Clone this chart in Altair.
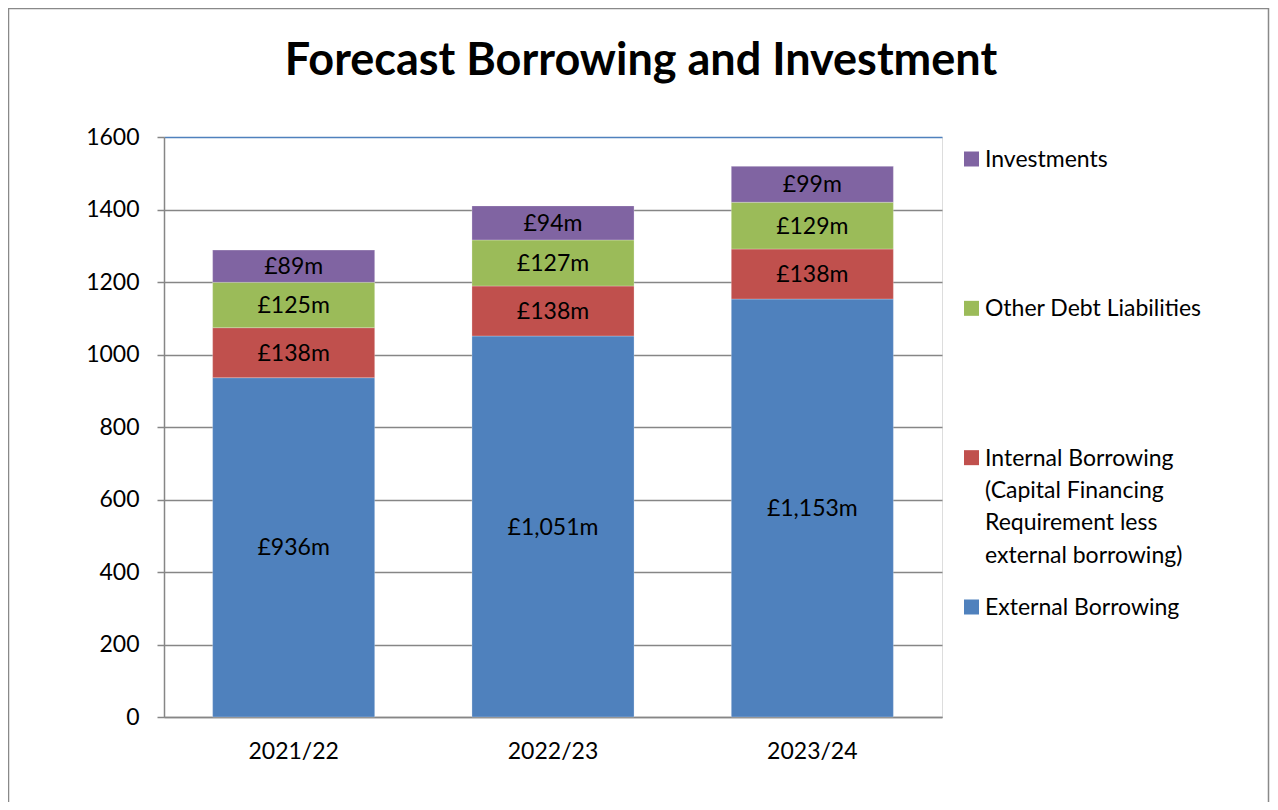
import altair as alt
import pandas as pd

# ---- data ----
years = ["2021/22", "2022/23", "2023/24"]
series = [
    "External Borrowing",
    "Internal Borrowing (Capital Financing Requirement less external borrowing)",
    "Other Debt Liabilities",
    "Investments",
]
legend_labels = [
    "External Borrowing",
    "Internal Borrowing\n(Capital Financing\nRequirement less\nexternal borrowing)",
    "Other Debt Liabilities",
    "Investments",
]
external = [936, 1051, 1153]
internal = [138, 138, 138]
other = [125, 127, 129]
investments = [89, 94, 99]
colors = ["#4F81BD", "#C0504D", "#9BBB59", "#8064A2"]
title_text = "Forecast Borrowing and Investment"
y_ticks = [0, 200, 400, 600, 800, 1000, 1200, 1400, 1600]

rows = []
for i, y in enumerate(years):
    for j, (s, vals) in enumerate(zip(series, [external, internal, other, investments])):
        rows.append({"year": y, "series": s, "order": j, "value": vals[i]})
df = pd.DataFrame(rows)

leg_df = pd.DataFrame({"series": series, "label": legend_labels})

FONT = "Lato"
FS = 23

color_scale = alt.Scale(domain=series, range=colors)
x_enc = alt.X(
    "year:N",
    sort=years,
    title=None,
    scale=alt.Scale(paddingInner=0.375, paddingOuter=0.1875),
    axis=alt.Axis(
        labelAngle=0, ticks=False, tickSize=0, labelPadding=23,
        labelFont=FONT, labelFontSize=FS, labelColor="#000000",
        domainColor="#868686", domainWidth=1.5, grid=False,
    ),
)

bars = alt.Chart(df).mark_bar(stroke="#ffffff", strokeOpacity=0.25, strokeWidth=1).encode(
    x=x_enc,
    y=alt.Y(
        "value:Q",
        stack="zero",
        title=None,
        scale=alt.Scale(domain=[0, 1600], nice=False),
        axis=alt.Axis(
            values=y_ticks, format="d", tickSize=7, tickColor="#868686", tickWidth=1.5,
            labelPadding=18, labelFont=FONT, labelFontSize=FS, labelColor="#000000",
            domainColor="#868686", domainWidth=1.5,
            gridColor={"condition": {"test": "datum.value === 1600", "value": "#4F81BD"}, "value": "#868686"},
            gridWidth=1.5,
        ),
    ),
    color=alt.Color("series:N", scale=color_scale, legend=None),
    order=alt.Order("order:Q", sort="ascending"),
)

labels = alt.Chart(df).transform_window(
    cum="sum(value)", groupby=["year"], sort=[alt.SortField("order", "ascending")]
).transform_calculate(
    mid="datum.cum - datum.value / 2",
    txt="'£' + format(datum.value, ',') + 'm'",
).mark_text(font=FONT, fontSize=FS, color="#000000", baseline="middle", dy=1).encode(
    x=alt.X("year:N", sort=years),
    y=alt.Y("mid:Q"),
    text="txt:N",
)

title = alt.Chart(pd.DataFrame({"t": [title_text]})).mark_text(
    font=FONT, fontSize=45, fontWeight="bold", color="#000000", align="center", baseline="alphabetic"
).encode(text="t:N", x=alt.value(477), y=alt.value(-62))

frame = alt.Chart(pd.DataFrame({"k": [0]})).mark_rect(
    fill=None, fillOpacity=0, stroke="#898989", strokeWidth=1.5
).encode(x=alt.value(-155.5), x2=alt.value(1104.5), y=alt.value(-128.5), y2=alt.value(720))

main = alt.layer(frame, bars, labels, title)

leg_y = alt.Y(
    "series:N",
    scale=alt.Scale(type="point", domain=series[::-1], range=[22, 470], padding=0),
    axis=None,
)
leg_sq = alt.Chart(leg_df).mark_square(size=225, opacity=1).encode(
    x=alt.value(807.5), y=leg_y, color=alt.Color("series:N", scale=color_scale, legend=None)
)
leg_txt = alt.Chart(leg_df).mark_text(
    font=FONT, fontSize=FS, color="#000000", align="left", baseline="alphabetic", dy=8,
    lineBreak="\n", lineHeight=32.3,
).encode(x=alt.value(821), y=leg_y, text="label:N")
legend = alt.layer(leg_sq, leg_txt)

chart = alt.layer(main, legend).resolve_scale(y="independent", x="independent").properties(
    width=778, height=580,
    autosize=alt.AutoSizeParams(type="none"),
    padding={"left": 156, "top": 129, "right": 328, "bottom": 85},
).configure_view(stroke="#4F81BD", strokeWidth=1.5).configure(background="#ffffff")

chart.save("out.html", embed_options={"renderer": "svg", "actions": False})
